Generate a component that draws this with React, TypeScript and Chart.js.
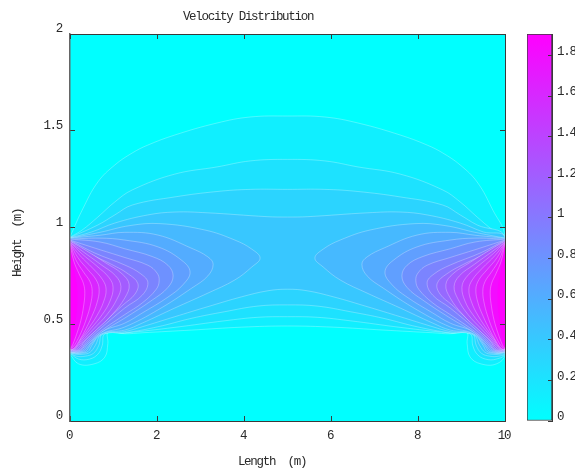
import React, { useEffect, useRef } from "react";
import { Chart, registerables } from "chart.js";

Chart.register(...registerables);

const TITLE = "Velocity Distribution";
const X_LABEL = "Length  (m)     ";
const Y_LABEL = "Height  (m)     ";
const COLOR_MAX = 1.906;

// Closed outlines of the filled contour bands: [length, height]
const D1 = [[0,.951],[.28,1.09],[.64,1.235],[1.03,1.323],[1.43,1.385],[1.79,1.426],[2.41,1.478],[3.38,1.54],[4.14,1.571],[5,1.576],[5.86,1.571],[6.62,1.54],[7.59,1.478],[8.21,1.426],[8.57,1.385],[8.97,1.323],[9.36,1.235],[9.72,1.09],[10,.951],[10,.345],[9.8,.295],[9.45,.295],[9.2,.33],[9.13,.4],[9.12,.46],[8.74,.451],[8.34,.456],[7.2,.47],[6.05,.485],[5,.491],[3.95,.485],[2.8,.47],[1.66,.456],[1.26,.451],[.88,.46],[.87,.4],[.8,.33],[.55,.295],[.2,.295],[0,.345]];
const D2 = [[0,.95],[.28,.987],[.64,1.054],[1.03,1.132],[1.43,1.194],[2.41,1.276],[3.38,1.313],[4.14,1.344],[5,1.352],[5.86,1.344],[6.62,1.313],[7.59,1.276],[8.57,1.194],[8.97,1.132],[9.36,1.054],[9.72,.987],[10,.95],[10,.35],[9.8,.32],[9.55,.32],[9.36,.345],[9.26,.39],[9.2,.45],[8.74,.455],[7.59,.484],[6.44,.518],[5.68,.536],[5,.539],[4.32,.536],[3.56,.518],[2.41,.484],[1.26,.455],[.8,.45],[.74,.39],[.64,.345],[.45,.32],[.2,.32],[0,.35]];
const D3 = [[0,.948],[.64,1.013],[1.03,1.065],[1.43,1.116],[2.41,1.158],[3.38,1.186],[4.14,1.197],[5,1.197],[5.86,1.197],[6.62,1.186],[7.59,1.158],[8.57,1.116],[8.97,1.065],[9.36,1.013],[10,.948],[10,.352],[9.85,.335],[9.65,.335],[9.46,.35],[9.34,.39],[9.25,.45],[8.74,.456],[7.98,.487],[7.2,.531],[6.44,.565],[5.68,.594],[5,.6],[4.32,.594],[3.56,.565],[2.8,.531],[2.02,.487],[1.26,.456],[.75,.45],[.66,.39],[.54,.35],[.35,.335],[.15,.335],[0,.352]];
const D4 = [[0,.947],[.5,.977],[1.03,1.023],[1.79,1.065],[2.41,1.08],[3.15,1.076],[4.53,1.056],[5,1.054],[5.47,1.056],[6.85,1.076],[7.59,1.08],[8.21,1.065],[8.97,1.023],[9.5,.977],[10,.947],[10,.354],[9.88,.345],[9.7,.345],[9.54,.355],[9.42,.39],[9.28,.445],[8.74,.462],[8.34,.487],[7.59,.539],[6.83,.591],[6.05,.642],[5.45,.673],[5,.681],[4.55,.673],[3.95,.642],[3.17,.591],[2.41,.539],[1.66,.487],[1.26,.462],[.72,.445],[.58,.39],[.46,.355],[.3,.345],[.12,.345],[0,.354]];

const L05 = [[0,.945],[.69,.975],[1.38,1.01],[2.07,1.02],[3.1,.987],[3.79,.935],[4.18,.888],[4.37,.842],[4.18,.796],[3.79,.729],[3.17,.661],[2.41,.584],[1.66,.506],[1.26,.47],[.72,.45],[.5,.39],[.42,.36],[.25,.35],[.1,.35],[0,.355]];
const L06 = [[0,.945],[.69,.96],[1.26,.975],[2.02,.961],[2.78,.894],[3.17,.848],[3.29,.81],[3.17,.75],[2.8,.687],[2.02,.574],[1.26,.486],[.72,.45],[.46,.39],[.37,.362],[.22,.352],[.09,.352],[0,.357]];
const L07 = [[0,.94],[.69,.945],[1.26,.935],[2.02,.9],[2.57,.83],[2.76,.77],[2.6,.705],[2.25,.64],[1.66,.558],[1.26,.506],[.72,.46],[.43,.39],[.33,.365],[.2,.355],[.08,.354],[0,.358]];
const L08 = [[0,.94],[.69,.925],[1.26,.89],[1.89,.85],[2.25,.805],[2.37,.75],[2.25,.69],[1.89,.625],[1.26,.532],[.7,.455],[.4,.395],[.3,.368],[.18,.357],[.07,.356],[0,.36]];
const L09 = [[0,.935],[.69,.885],[1.26,.845],[1.79,.805],[2,.765],[2.05,.725],[1.98,.68],[1.66,.61],[1.26,.55],[.68,.46],[.38,.4],[.27,.37],[.16,.36],[.06,.358],[0,.362]];
const L10 = [[0,.935],[.55,.87],[1.26,.806],[1.63,.76],[1.79,.715],[1.66,.65],[1.26,.584],[.66,.47],[.36,.405],[.25,.372],[.13,.362],[0,.364]];
const L11 = [[0,.93],[.5,.86],[.95,.81],[1.34,.76],[1.56,.71],[1.49,.655],[1.22,.6],[.64,.48],[.33,.41],[.23,.376],[.11,.364],[0,.366]];
const L12 = [[0,.93],[.34,.885],[.8,.82],[1.2,.76],[1.36,.705],[1.26,.636],[.97,.55],[.6,.47],[.31,.41],[.2,.38],[.09,.367],[0,.368]];
const L13 = [[0,.925],[.3,.875],[.7,.81],[1.05,.75],[1.17,.695],[1.08,.63],[.85,.55],[.54,.475],[.29,.415],[.17,.383],[.08,.37],[0,.37]];
const L14 = [[0,.925],[.27,.865],[.62,.8],[.9,.74],[.99,.69],[.92,.62],[.74,.55],[.47,.475],[.25,.415],[.15,.385],[.06,.372],[0,.372]];
const L15 = [[0,.92],[.23,.855],[.52,.79],[.75,.73],[.83,.68],[.77,.615],[.62,.545],[.4,.47],[.22,.415],[.12,.385],[.05,.373],[0,.373]];
const L16 = [[0,.92],[.18,.845],[.42,.78],[.6,.73],[.67,.68],[.62,.61],[.5,.54],[.35,.47],[.2,.41],[.11,.38],[.04,.37],[0,.372]];
const L17 = [[0,.918],[.13,.835],[.31,.77],[.46,.72],[.51,.67],[.47,.6],[.38,.53],[.27,.465],[.15,.41],[.07,.383],[0,.373]];
const L18 = [[0,.915],[.09,.825],[.21,.76],[.31,.71],[.34,.66],[.31,.59],[.25,.52],[.17,.46],[.09,.41],[.04,.385],[0,.375]];
const L19 = [[0,.91],[.05,.82],[.12,.75],[.16,.7],[.17,.65],[.16,.58],[.12,.51],[.08,.45],[.04,.41],[0,.38]];

const R05 = [[10,.945],[9.31,.975],[8.62,1.01],[7.93,1.02],[6.9,.987],[6.21,.935],[5.82,.888],[5.63,.842],[5.82,.796],[6.21,.729],[6.83,.661],[7.59,.584],[8.34,.506],[8.74,.47],[9.28,.45],[9.5,.39],[9.58,.36],[9.75,.35],[9.9,.35],[10,.355]];
const R06 = [[10,.945],[9.31,.96],[8.74,.975],[7.98,.961],[7.22,.894],[6.83,.848],[6.71,.81],[6.83,.75],[7.2,.687],[7.98,.574],[8.74,.486],[9.28,.45],[9.54,.39],[9.63,.362],[9.78,.352],[9.91,.352],[10,.357]];
const R07 = [[10,.94],[9.31,.945],[8.74,.935],[7.98,.9],[7.43,.83],[7.24,.77],[7.4,.705],[7.75,.64],[8.34,.558],[8.74,.506],[9.28,.46],[9.57,.39],[9.67,.365],[9.8,.355],[9.92,.354],[10,.358]];
const R08 = [[10,.94],[9.31,.925],[8.74,.89],[8.11,.85],[7.75,.805],[7.63,.75],[7.75,.69],[8.11,.625],[8.74,.532],[9.3,.455],[9.6,.395],[9.7,.368],[9.82,.357],[9.93,.356],[10,.36]];
const R09 = [[10,.935],[9.31,.885],[8.74,.845],[8.21,.805],[8,.765],[7.95,.725],[8.02,.68],[8.34,.61],[8.74,.55],[9.32,.46],[9.62,.4],[9.73,.37],[9.84,.36],[9.94,.358],[10,.362]];
const R10 = [[10,.935],[9.45,.87],[8.74,.806],[8.37,.76],[8.21,.715],[8.34,.65],[8.74,.584],[9.34,.47],[9.64,.405],[9.75,.372],[9.87,.362],[10,.364]];
const R11 = [[10,.93],[9.5,.86],[9.05,.81],[8.66,.76],[8.44,.71],[8.51,.655],[8.78,.6],[9.36,.48],[9.67,.41],[9.77,.376],[9.89,.364],[10,.366]];
const R12 = [[10,.93],[9.66,.885],[9.2,.82],[8.8,.76],[8.64,.705],[8.74,.636],[9.03,.55],[9.4,.47],[9.69,.41],[9.8,.38],[9.91,.367],[10,.368]];
const R13 = [[10,.925],[9.7,.875],[9.3,.81],[8.95,.75],[8.83,.695],[8.92,.63],[9.15,.55],[9.46,.475],[9.71,.415],[9.83,.383],[9.92,.37],[10,.37]];
const R14 = [[10,.925],[9.73,.865],[9.38,.8],[9.1,.74],[9.01,.69],[9.08,.62],[9.26,.55],[9.53,.475],[9.75,.415],[9.85,.385],[9.94,.372],[10,.372]];
const R15 = [[10,.92],[9.77,.855],[9.48,.79],[9.25,.73],[9.17,.68],[9.23,.615],[9.38,.545],[9.6,.47],[9.78,.415],[9.88,.385],[9.95,.373],[10,.373]];
const R16 = [[10,.92],[9.82,.845],[9.58,.78],[9.4,.73],[9.33,.68],[9.38,.61],[9.5,.54],[9.65,.47],[9.8,.41],[9.89,.38],[9.96,.37],[10,.372]];
const R17 = [[10,.918],[9.87,.835],[9.69,.77],[9.54,.72],[9.49,.67],[9.53,.6],[9.62,.53],[9.73,.465],[9.85,.41],[9.93,.383],[10,.373]];
const R18 = [[10,.915],[9.91,.825],[9.79,.76],[9.69,.71],[9.66,.66],[9.69,.59],[9.75,.52],[9.83,.46],[9.91,.41],[9.96,.385],[10,.375]];
const R19 = [[10,.91],[9.95,.82],[9.88,.75],[9.84,.7],[9.83,.65],[9.84,.58],[9.88,.51],[9.92,.45],[9.96,.41],[10,.38]];

// Contour level of each band, lowest first, and its outlines
const BANDS: [number, number[][][]][] = [
  [0.12, [D1]], [0.22, [D2]], [0.32, [D3]], [0.42, [D4]],
  [0.52, [L05, R05]], [0.62, [L06, R06]], [0.72, [L07, R07]], [0.82, [L08, R08]],
  [0.92, [L09, R09]], [1.02, [L10, R10]], [1.12, [L11, R11]], [1.22, [L12, R12]],
  [1.32, [L13, R13]], [1.42, [L14, R14]], [1.52, [L15, R15]], [1.62, [L16, R16]],
  [1.72, [L17, R17]], [1.82, [L18, R18]], [1.9, [L19, R19]],
];

const FONT = { family: '"Liberation Mono", monospace', size: 12.5 };
const INK = "#2a2a2a";
const FRAME = "#3a3a3a";

const cool = (v: number) => {
  const r = Math.round((v / COLOR_MAX) * 255);
  return `rgb(${Math.min(r, 255)},${Math.max(255 - r, 0)},255)`;
};
const tickText = (v: any) => String(Number(Number(v).toFixed(1)));

const frameScale = (position: string, min: number, max: number, stepSize: number) => ({
  type: "linear", position, min, max, display: true,
  ticks: { display: false, stepSize, includeBounds: false },
  grid: { drawOnChartArea: false, tickLength: -5, color: FRAME, z: 1 },
  border: { color: FRAME, z: 1 },
  afterFit: (s: any) => { if (position === "top" || position === "bottom") s.height = 0; else s.width = 0; },
});

const tightText = {
  id: "tightText",
  beforeLayout(chart: any) { chart.ctx.letterSpacing = "-1.3px"; },
  beforeDraw(chart: any) { chart.ctx.letterSpacing = "-1.3px"; },
};

const shiftTitle = {
  id: "shiftTitle",
  afterLayout(chart: any) { chart.titleBlock.left -= 9; },
};

export default function App() {
  const mainRef = useRef<HTMLCanvasElement>(null);
  const barRef = useRef<HTMLCanvasElement>(null);

  useEffect(() => {
    let drawOrder = 1000;
    const datasets: any[] = [];
    BANDS.forEach(([level, outlines]) => {
      outlines.forEach((pts) => {
        datasets.push({
          data: pts.map(([x, y]) => ({ x, y })),
          showLine: true,
          fill: "shape",
          backgroundColor: cool(level),
          borderColor: level >= 1.9 ? "rgba(255,0,255,0)" : "rgba(255,255,255,0.35)",
          borderWidth: 0.8,
          pointRadius: 0,
          tension: 0.4,
          order: drawOrder--,
        });
      });
    });

    const main = new Chart(mainRef.current as any, {
      type: "scatter",
      data: { datasets },
      plugins: [
        tightText,
        shiftTitle,
        {
          id: "plotBackground",
          beforeDatasetsDraw(chart: any) {
            const { ctx, chartArea: a } = chart;
            ctx.save();
            ctx.fillStyle = "#00ffff";
            ctx.fillRect(a.left, a.top, a.width, a.height);
            ctx.restore();
          },
        },
      ],
      options: {
        responsive: false,
        animation: false,
        layout: { padding: { right: 70 } },
        plugins: {
          legend: { display: false },
          tooltip: { enabled: false },
          title: {
            display: true,
            text: TITLE,
            color: INK,
            font: { ...FONT, weight: "normal" },
            padding: { top: 9, bottom: 10 },
          },
        },
        scales: {
          x: {
            type: "linear", min: 0, max: 10, position: "bottom",
            ticks: { stepSize: 2, color: INK, font: FONT, padding: 12, labelOffset: -1, maxRotation: 0, includeBounds: false, callback: tickText },
            grid: { drawOnChartArea: false, tickLength: -5, color: FRAME, z: 1 },
            border: { color: FRAME, z: 1 },
            title: { display: true, text: X_LABEL, color: INK, font: FONT, padding: { top: 0, bottom: 0 } },
            afterFit: (s: any) => { s.height = 48; },
          },
          y: {
            type: "linear", min: 0, max: 2, position: "left",
            ticks: { stepSize: 0.5, color: INK, font: FONT, padding: 13, labelOffset: -5, includeBounds: false, callback: tickText },
            grid: { drawOnChartArea: false, tickLength: -5, color: FRAME, z: 1 },
            border: { color: "#666", width: 1.5, z: 1 },
            title: { display: true, text: Y_LABEL, color: INK, font: FONT, padding: { top: 10, bottom: 0 } },
            afterFit: (s: any) => { s.width = 70; },
          },
          x2: frameScale("top", 0, 10, 2),
          y2: frameScale("right", 0, 2, 0.5),
        },
      } as any,
    } as any);

    const bar = new Chart(barRef.current as any, {
      type: "bar",
      data: {
        labels: ["v"],
        datasets: [{
          data: [[0, COLOR_MAX]],
          barPercentage: 1,
          categoryPercentage: 1,
          borderColor: FRAME,
          borderWidth: 1,
          borderSkipped: false,
          backgroundColor: (ctx: any) => {
            const { chart } = ctx;
            if (!chart.chartArea) return "#00ffff";
            const y = chart.scales.y;
            const g = chart.ctx.createLinearGradient(0, y.getPixelForValue(0), 0, y.getPixelForValue(COLOR_MAX));
            g.addColorStop(0, "#00ffff");
            g.addColorStop(1, "#ff00ff");
            return g;
          },
        }],
      },
      plugins: [tightText],
      options: {
        responsive: false,
        animation: false,
        layout: { padding: { left: 22, top: 34, bottom: 48 } },
        plugins: { legend: { display: false }, tooltip: { enabled: false } },
        scales: {
          x: { display: false },
          y: {
            type: "linear", position: "right", min: 0, max: COLOR_MAX,
            ticks: { stepSize: 0.2, color: INK, font: FONT, padding: 9, labelOffset: -4, includeBounds: false, callback: tickText },
            grid: { drawOnChartArea: false, tickLength: -4, color: FRAME, z: 1 },
            border: { color: FRAME, z: 1 },
            afterFit: (s: any) => { s.width = 23; },
          },
        },
      } as any,
    } as any);

    return () => { main.destroy(); bar.destroy(); };
  }, []);

  return (
    <div style={{ position: "absolute", left: 0, top: 0, width: 575, height: 469, background: "#fff", overflow: "hidden" }}>
      <canvas ref={mainRef} width={575} height={469} style={{ position: "absolute", left: 0, top: 0, display: "block" }} />
      <canvas ref={barRef} width={70} height={469} style={{ position: "absolute", left: 505, top: 0, display: "block" }} />
    </div>
  );
}
